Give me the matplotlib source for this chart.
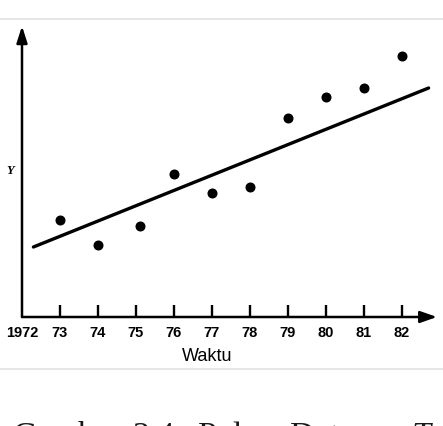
import matplotlib
matplotlib.use("Agg")
import matplotlib.pyplot as plt
from matplotlib.lines import Line2D

# data
tahun = [1973, 1974, 1975.1, 1976, 1977, 1978, 1979, 1980, 1981, 1982]
nilai_y = [9.7, 7.2, 9.1, 14.3, 12.4, 13.0, 19.9, 22.0, 22.9, 26.1]
trend_x = [1972.3, 1982.7]
trend_y = [7.0, 22.9]
tick_pos = list(range(1972, 1983))
tick_lbl = ["1972", "73", "74", "75", "76", "77", "78", "79", "80", "81", "82"]

W, H = 443, 427
fig = plt.figure(figsize=(W / 100, H / 100), dpi=100)
fig.patch.set_facecolor("white")

# axes placed in pixel terms: 1972 at x=22px, 38px per year, y=0 at 318px
ax = fig.add_axes([22 / W, (H - 318) / H, 418 / W, 300 / H])
ax.set_xlim(1972, 1983)
ax.set_ylim(0, 30)
ax.patch.set_alpha(0)
for s in ax.spines.values():
    s.set_visible(False)

ax.plot(trend_x, trend_y, color="black", lw=2.4, solid_capstyle="round")
ax.plot(tahun, nilai_y, "o", color="black", markersize=6.2)

# axis arrows
ax.annotate("", xy=(1982.92, 0), xytext=(1972, 0),
            arrowprops=dict(arrowstyle="-|>,head_length=1.0,head_width=0.35",
                            color="black", lw=1.8, shrinkA=0, shrinkB=0),
            annotation_clip=False)
ax.annotate("", xy=(1972, 29.1), xytext=(1972, 0),
            arrowprops=dict(arrowstyle="-|>,head_length=1.0,head_width=0.32",
                            color="black", lw=1.8, shrinkA=0, shrinkB=0),
            annotation_clip=False)

ax.set_xticks(tick_pos)
ax.set_xticklabels(tick_lbl, fontfamily="Liberation Sans", fontweight="bold",
                   fontsize=10.5)
ax.tick_params(axis="x", direction="in", length=8.5, width=1.7, pad=6)
ax.xaxis.get_major_ticks()[0].tick1line.set_visible(False)
ax.set_yticks([])

fig.text(207 / W, (H - 357) / H, "Waktu", ha="center", va="center",
         fontfamily="Liberation Sans", fontsize=13)
fig.text(10 / W, (H - 171) / H, "Y", ha="center", va="center",
         fontfamily="Liberation Serif", fontsize=9, fontweight="bold",
         fontstyle="italic")

# light grey frame lines
for yy in (20, 370):
    fig.add_artist(Line2D([0, 1], [(H - yy) / H] * 2, color="#e4e4e4", lw=1.3))

# caption, cut off by the lower edge as in the source
base = (H - 445) / H
for word, xp, st in [("Gambar", 13, "normal"), ("2.4", 132, "normal"),
                     ("Pola", 198, "normal"), ("Data", 290, "normal"),
                     ("Trend", 412, "italic")]:
    fig.text(xp / W, base, word, ha="left", va="baseline",
             fontfamily="Liberation Serif", fontsize=24.5, fontstyle=st,
             color="#1a1a1a")

fig.savefig("out.png", dpi=100)
